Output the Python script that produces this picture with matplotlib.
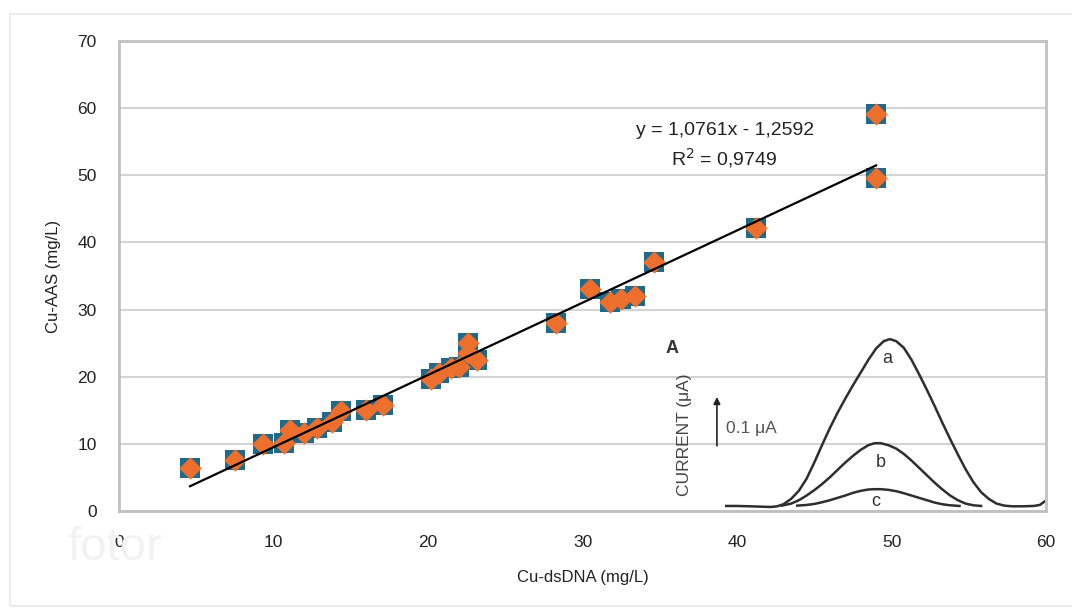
import matplotlib
matplotlib.use("Agg")
import matplotlib.pyplot as plt
from matplotlib.patches import Rectangle

plt.rcParams['font.family'] = ['Liberation Sans', 'DejaVu Sans']

# Scatter data: Cu-dsDNA (x) vs Cu-AAS (y)
cu_dsdna = [4.6, 7.5, 9.3, 10.7, 11.1, 11.95, 12.8, 13.8, 14.4, 16.0, 17.1,
            20.2, 20.7, 21.5, 22.0, 22.6, 22.6, 23.2,
            28.3, 30.5, 31.8, 32.5, 33.4, 34.6, 41.2, 49.0, 49.0]
cu_aas = [6.4, 7.6, 10.0, 10.1, 12.1, 11.6, 12.3, 13.3, 14.9, 15.0, 15.8,
          19.6, 20.5, 21.3, 21.5, 25.0, 23.5, 22.5,
          28.0, 33.1, 31.2, 31.6, 32.0, 37.1, 42.2, 59.2, 49.6]

# Linear trend
slope = 1.0761
intercept = -1.2592
trend_x = [min(cu_dsdna), max(cu_dsdna)]

# Inset voltammogram traces (read in chart coordinates)
curve_a_x = [39.3, 40.0, 40.8, 41.5, 42.2, 42.6, 43.0, 43.5, 44.0, 44.5, 45.0, 45.5,
             46.0, 46.5, 47.0, 47.5, 48.0, 48.5, 49.0, 49.5, 49.9, 50.3, 50.8,
             51.3, 51.8, 52.3, 52.8, 53.3, 53.8, 54.3, 54.8, 55.3, 55.8, 56.3,
             56.8, 57.3, 57.8, 58.5, 59.2, 59.6, 59.9]
curve_a_y = [0.75, 0.75, 0.7, 0.65, 0.6, 0.7, 1.0, 1.8, 3.0, 4.8, 7.2, 9.8,
             12.3, 14.6, 16.7, 18.7, 20.6, 22.5, 24.2, 25.3, 25.6, 25.3, 24.3,
             22.5, 20.3, 18.0, 15.6, 13.1, 10.7, 8.4, 6.2, 4.3, 2.8, 1.8,
             1.1, 0.8, 0.7, 0.7, 0.75, 0.9, 1.4]
curve_b_x = [42.9, 43.5, 44.0, 44.5, 45.0, 45.5, 46.0, 46.5, 47.0, 47.5, 48.0, 48.5,
             48.9, 49.3, 49.8, 50.3, 50.8, 51.3, 51.8, 52.3, 52.8, 53.3, 53.8,
             54.3, 54.8, 55.3, 55.8]
curve_b_y = [0.8, 1.1, 1.6, 2.3, 3.1, 4.0, 5.0, 6.1, 7.2, 8.2, 9.1, 9.8,
             10.1, 10.1, 9.8, 9.3, 8.5, 7.5, 6.4, 5.3, 4.2, 3.2, 2.3,
             1.6, 1.1, 0.85, 0.75]
curve_c_x = [43.9, 44.5, 45.0, 45.5, 46.0, 46.5, 47.0, 47.5, 48.0, 48.5, 48.9, 49.3,
             49.8, 50.3, 50.8, 51.3, 51.8, 52.3, 52.8, 53.3, 53.8, 54.4]
curve_c_y = [0.8, 0.9, 1.05, 1.3, 1.6, 1.95, 2.3, 2.7, 3.0, 3.2, 3.25, 3.25,
             3.15, 2.95, 2.65, 2.3, 1.95, 1.6, 1.25, 1.0, 0.85, 0.75]

x_ticks = [0, 10, 20, 30, 40, 50, 60]
y_ticks = [0, 10, 20, 30, 40, 50, 60, 70]

fig = plt.figure(figsize=(10.72, 6.10), dpi=100)
fig.patch.set_facecolor('white')
# outer light frame
fig.add_artist(Rectangle((10/1072, 1 - 606/610), 1.2, (606-14)/610,
                         transform=fig.transFigure, fill=False,
                         edgecolor='#e8e8e8', linewidth=1.2))

ax = fig.add_axes([119/1072, 1 - 511/610, (1046-119)/1072, (511-41)/610])
ax.set_xlim(0, 60)
ax.set_ylim(0, 70)
ax.set_xticks(x_ticks)
ax.set_yticks(y_ticks)
ax.grid(axis='y', color='#d3d3d3', linewidth=1.5)
ax.set_axisbelow(True)
for s in ax.spines.values():
    s.set_color('#c0c0c0')
    s.set_linewidth(2)
ax.tick_params(length=0, labelsize=12.5, colors='#222222')
ax.tick_params(axis='y', pad=16)
ax.tick_params(axis='x', pad=17)

ax.set_xlabel('Cu-dsDNA (mg/L)', fontsize=12, color='#222222', labelpad=15)
ax.set_ylabel('Cu-AAS (mg/L)', fontsize=12, color='#222222', labelpad=12)

# inset voltammogram
lc = '#2e2e2e'
for cx, cy in ((curve_a_x, curve_a_y), (curve_b_x, curve_b_y), (curve_c_x, curve_c_y)):
    ax.plot(cx, cy, color=lc, lw=1.8, zorder=2, solid_joinstyle='round')
ax.text(49.75, 22.7, 'a', fontsize=13, color='#333333', ha='center', va='center')
ax.text(49.3, 7.2, 'b', fontsize=13, color='#333333', ha='center', va='center')
ax.text(49.0, 1.4, 'c', fontsize=13, color='#333333', ha='center', va='center')
ax.text(35.8, 24.2, 'A', fontsize=13, fontweight='bold', color='#333333', ha='center', va='center')
ax.text(36.6, 11.3, 'CURRENT (μA)', fontsize=12.5, color='#444444', rotation=90,
        ha='center', va='center')
ax.annotate('', xy=(38.7, 17.4), xytext=(38.7, 9.3),
            arrowprops=dict(arrowstyle='-|>', color='#222222', lw=1.2,
                            mutation_scale=10))
ax.text(39.3, 12.3, '0.1 μA', fontsize=12.5, color='#555555', ha='left', va='center')

# scatter: blue squares with orange diamonds on top
ax.scatter(cu_dsdna, cu_aas, marker='s', s=210, color='#1f6a8a', zorder=3, linewidths=0)
ax.scatter(cu_dsdna, cu_aas, marker='D', s=130, color='#ec6f2d', zorder=4, linewidths=0)

# trendline
ax.plot(trend_x, [slope * v + intercept for v in trend_x], color='black', lw=1.6, zorder=5)
ax.text(39.2, 56.6, 'y = 1,0761x - 1,2592', fontsize=14, color='#222222',
        ha='center', va='center')
ax.text(39.2, 52.6, 'R$^2$ = 0,9749', fontsize=14, color='#222222',
        ha='center', va='center')

# faint watermark
fig.text(115/1072, 1 - 548/610, 'fotor', fontsize=34, color='#f2f2f2',
         ha='center', va='center', zorder=0)

fig.savefig('out.png', dpi=100, facecolor='white')
